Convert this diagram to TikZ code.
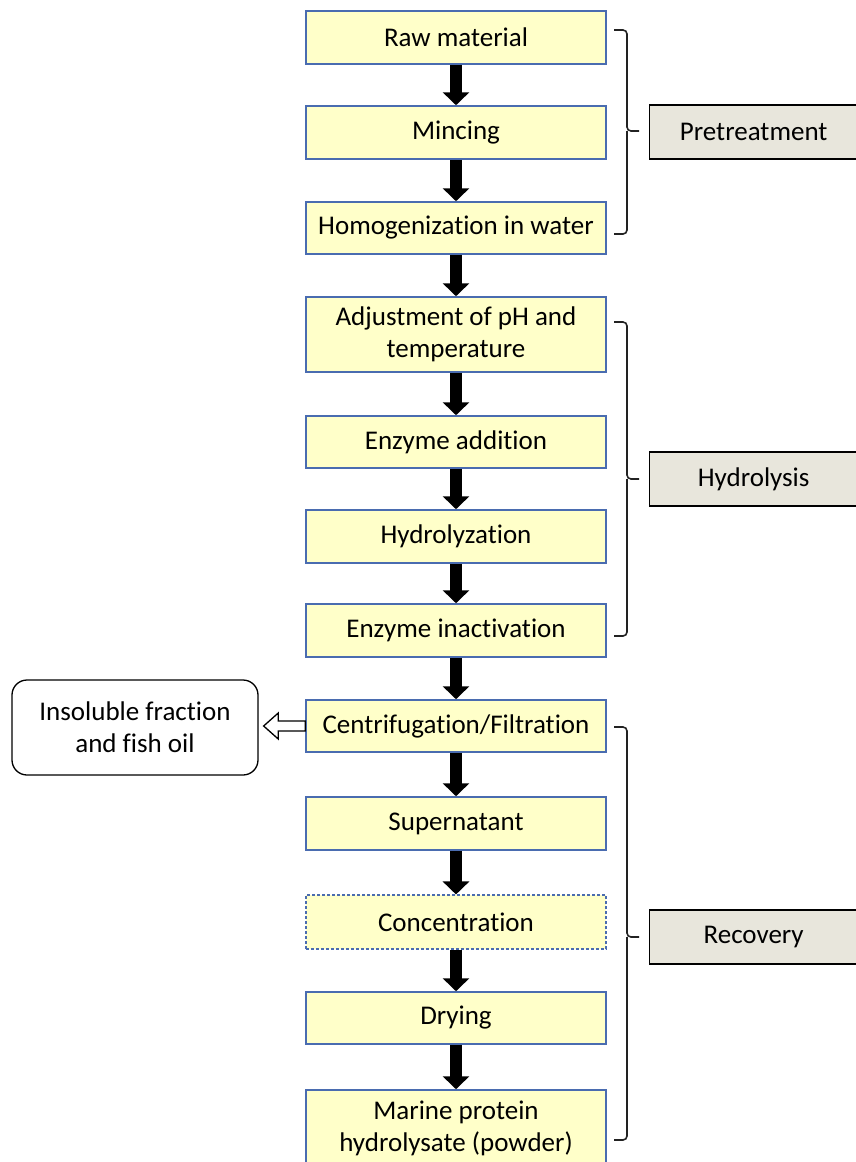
\documentclass[tikz,border=0pt]{standalone}
\usepackage{fontspec}
\setmainfont{Carlito}[Ligatures=NoCommon]
\usetikzlibrary{arrows.meta,calc}
\definecolor{boxfill}{HTML}{FFFFC9}
\definecolor{boxline}{HTML}{4A6CB0}
\definecolor{labfill}{HTML}{E8E6DC}
\definecolor{brcol}{HTML}{222222}
\tikzset{
  stepbox/.style={draw=boxline, fill=boxfill, line width=1.5pt, minimum width=300pt,
    inner sep=0pt, align=center, font=\fontsize{27}{32}\selectfont},
  labbox/.style={draw=black, fill=labfill, line width=1.3pt, minimum width=212pt, minimum height=54pt,
    inner sep=0pt, font=\fontsize{27}{32}\selectfont, anchor=west},
  blk/.style={line width=12pt, -{Triangle[width=26pt,length=13pt]}},
  brc/.style={draw=brcol, line width=1.6pt, rounded corners=4pt},
  hol/.style={draw=black, fill=white, line width=1.3pt, line join=miter},
}
\begin{document}
\begin{tikzpicture}[x=1pt,y=-1pt]
\useasboundingbox (0,0) rectangle (855,1162);
% process steps
\node[stepbox, minimum height=53pt] (n1) at (456,37.5) {Raw material};
\node[stepbox, minimum height=53pt] (n2) at (456,132.5) {Mincing};
\node[stepbox, minimum height=52pt] (n3) at (456,228) {Homogenization in water};
\node[stepbox, minimum height=75pt] (n4) at (456,334.5) {Adjustment of pH and\\temperature};
\node[stepbox, minimum height=52pt] (n5) at (456,442) {Enzyme addition};
\node[stepbox, minimum height=53pt] (n6) at (456,536.5) {Hydrolyzation};
\node[stepbox, minimum height=53pt] (n7) at (456,630.5) {Enzyme inactivation};
\node[stepbox, minimum height=52pt] (cen) at (456,726) {Centrifugation/Filtration};
\node[stepbox, minimum height=53pt] (n9) at (456,823.5) {Supernatant};
\node[stepbox, minimum height=54pt, dash pattern=on 3pt off 2pt, line width=1.1pt] (n10) at (456,922) {Concentration};
\node[stepbox, minimum height=52pt] (n11) at (456,1018) {Drying};
\node[stepbox, minimum height=76pt] (n12) at (456,1128) {Marine protein\\hydrolysate (powder)};
% side output
\node[draw=black, fill=white, line width=1.3pt, rounded corners=15pt, minimum width=246pt,
  minimum height=95pt, align=center, inner sep=0pt, font=\fontsize{27}{32}\selectfont]
  (ins) at (135,727.5) {Insoluble fraction\\and fish oil};
% arrows
\foreach \a/\b in {n1/n2,n2/n3,n3/n4,n4/n5,n5/n6,n6/n7,n7/cen,cen/n9,n9/n10,n10/n11,n11/n12}
  \draw[blk] (\a.south) -- (\b.north);
\draw[hol] ([yshift=5pt]cen.west) -- ++(-27,0) -- ++(0,-8) -- ($(cen.west -| ins.east)+(5,0)$)
  -- ($(cen.west)+(-27,13)$) -- ($(cen.west)+(-27,5)$) -- ([yshift=-5pt]cen.west) -- cycle;
% labels
\node[labbox] (pre) at (649,132) {\hspace*{-4pt}Pretreatment};
\node[labbox] (hyd) at (649,479) {\hspace*{-4pt}Hydrolysis};
\node[labbox] (rec) at (649,937) {\hspace*{-4pt}Recovery};
% braces
\draw[brc] (614,30) -- (627,30) -- (627,131) -- (639,131);
\draw[brc] (614,234) -- (627,234) -- (627,131);
\draw[brc] (614,322) -- (627,322) -- (627,479) -- (639,479);
\draw[brc] (614,636) -- (627,636) -- (627,479);
\draw[brc] (614,727) -- (627,727) -- (627,937) -- (639,937);
\draw[brc] (614,1140) -- (627,1140) -- (627,937);
\end{tikzpicture}
\end{document}
